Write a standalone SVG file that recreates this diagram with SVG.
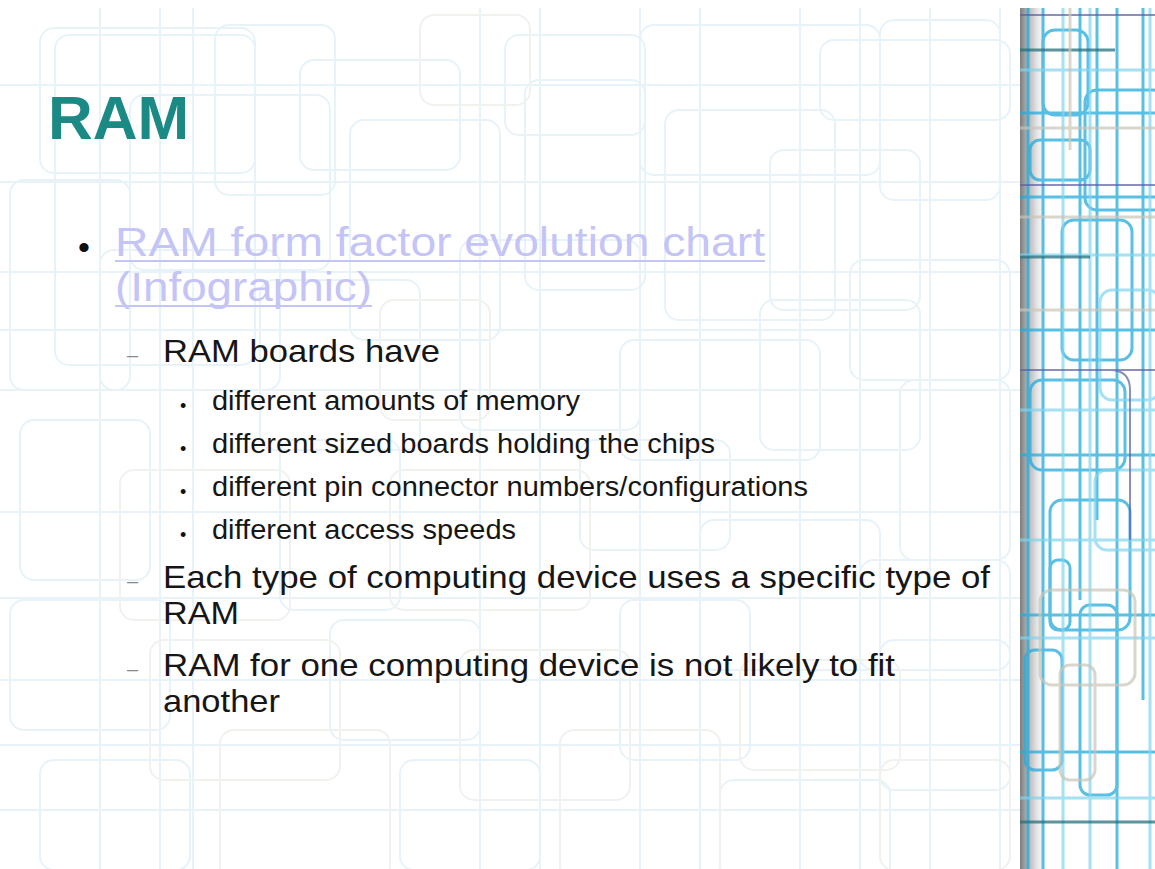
<svg xmlns="http://www.w3.org/2000/svg" width="1155" height="869" viewBox="0 0 1155 869">
  <defs>
    <style>
      .bg { fill: none; stroke: #e7f3f9; stroke-width: 2; }
      .bgg { fill: none; stroke: #f1f1ee; stroke-width: 2; }
      .ln { fill: none; stroke: #22abdc; stroke-width: 3; opacity: 0.75; }
      .lnl { fill: none; stroke: #7fd3ee; stroke-width: 3; opacity: 0.7; }
      .lnp { fill: none; stroke: #5d5fa6; stroke-width: 2; opacity: 0.7; }
      .lnd { fill: none; stroke: #25707e; stroke-width: 3; opacity: 0.75; }
      .lng { fill: none; stroke: #c9c6b8; stroke-width: 3; opacity: 0.7; }
      .title { font-family: "Liberation Sans", Arial, sans-serif; font-weight: bold; fill: #1b8a84; }
      .link { font-family: "Liberation Sans", Arial, sans-serif; fill: #c4c4f6; }
      .body { font-family: "Liberation Sans", Arial, sans-serif; fill: #161616; }
      .mark { font-family: "Liberation Sans", Arial, sans-serif; fill: #111111; }
      .dash { font-family: "Liberation Sans", Arial, sans-serif; fill: #8a8a8a; }
    </style>
    <linearGradient id="shade" x1="0" y1="0" x2="1" y2="0">
      <stop offset="0" stop-color="#7d7d7d"/>
      <stop offset="0.2" stop-color="#a9a9a9"/>
      <stop offset="0.55" stop-color="#e2e2e2"/>
      <stop offset="1" stop-color="#ffffff" stop-opacity="0"/>
    </linearGradient>
  </defs>

  <rect width="1155" height="869" fill="#ffffff"/>

  <!-- faint circuit-style background pattern -->
  <g id="pattern">
    <g class="bg">
      <line x1="0" y1="85" x2="1020" y2="85"/>
      <line x1="0" y1="182" x2="1020" y2="182"/>
      <line x1="0" y1="272" x2="1020" y2="272"/>
      <line x1="0" y1="330" x2="1020" y2="330"/>
      <line x1="0" y1="390" x2="1020" y2="390"/>
      <line x1="0" y1="512" x2="1020" y2="512"/>
      <line x1="0" y1="598" x2="1020" y2="598"/>
      <line x1="0" y1="680" x2="1020" y2="680"/>
      <line x1="0" y1="745" x2="1020" y2="745"/>
      <line x1="0" y1="810" x2="1020" y2="810"/>
      <line x1="100" y1="8" x2="100" y2="869"/>
      <line x1="160" y1="8" x2="160" y2="869"/>
      <line x1="193" y1="8" x2="193" y2="869"/>
      <line x1="480" y1="8" x2="480" y2="869"/>
      <line x1="540" y1="8" x2="540" y2="869"/>
      <line x1="640" y1="8" x2="640" y2="869"/>
      <line x1="700" y1="8" x2="700" y2="869"/>
      <line x1="800" y1="8" x2="800" y2="869"/>
      <line x1="860" y1="8" x2="860" y2="869"/>
      <line x1="930" y1="8" x2="930" y2="869"/>
      <line x1="1000" y1="8" x2="1000" y2="869"/>
      <rect x="40" y="28" width="215" height="145" rx="14"/>
      <rect x="55" y="35" width="200" height="330" rx="14"/>
      <rect x="130" y="95" width="200" height="175" rx="14"/>
      <rect x="215" y="25" width="120" height="170" rx="14"/>
      <rect x="300" y="60" width="160" height="110" rx="14"/>
      <rect x="350" y="120" width="150" height="220" rx="14"/>
      <rect x="505" y="35" width="140" height="100" rx="14"/>
      <rect x="525" y="80" width="120" height="210" rx="14"/>
      <rect x="640" y="25" width="240" height="150" rx="14"/>
      <rect x="665" y="110" width="170" height="210" rx="14"/>
      <rect x="770" y="150" width="150" height="160" rx="14"/>
      <rect x="820" y="40" width="190" height="80" rx="14"/>
      <rect x="880" y="20" width="120" height="180" rx="14"/>
      <rect x="10" y="180" width="120" height="210" rx="14"/>
      <rect x="100" y="250" width="180" height="140" rx="14"/>
      <rect x="260" y="280" width="160" height="170" rx="14"/>
      <rect x="460" y="240" width="180" height="190" rx="14"/>
      <rect x="620" y="340" width="200" height="120" rx="14"/>
      <rect x="760" y="300" width="160" height="150" rx="14"/>
      <rect x="850" y="260" width="160" height="120" rx="14"/>
      <rect x="900" y="380" width="110" height="180" rx="14"/>
      <rect x="20" y="420" width="130" height="160" rx="14"/>
      <rect x="280" y="440" width="120" height="170" rx="14"/>
      <rect x="580" y="440" width="150" height="110" rx="14"/>
      <rect x="700" y="520" width="180" height="150" rx="14"/>
      <rect x="860" y="560" width="150" height="110" rx="14"/>
      <rect x="10" y="600" width="160" height="130" rx="14"/>
      <rect x="330" y="620" width="150" height="120" rx="14"/>
      <rect x="620" y="600" width="130" height="160" rx="14"/>
      <rect x="880" y="640" width="130" height="150" rx="14"/>
      <rect x="40" y="760" width="150" height="110" rx="14"/>
      <rect x="400" y="760" width="140" height="110" rx="14"/>
      <rect x="720" y="780" width="170" height="100" rx="14"/>
    </g>
    <g class="bgg">
      <rect x="420" y="15" width="110" height="90" rx="14"/>
      <rect x="380" y="300" width="110" height="120" rx="14"/>
      <rect x="120" y="470" width="170" height="150" rx="14"/>
      <rect x="390" y="470" width="200" height="140" rx="14"/>
      <rect x="150" y="640" width="190" height="140" rx="14"/>
      <rect x="460" y="650" width="170" height="150" rx="14"/>
      <rect x="740" y="660" width="160" height="110" rx="14"/>
      <rect x="220" y="730" width="170" height="150" rx="14"/>
      <rect x="560" y="730" width="160" height="150" rx="14"/>
      <rect x="880" y="760" width="130" height="110" rx="14"/>
    </g>
  </g>

  <!-- right-hand decorative strip -->
  <g id="strip">
    <rect x="1020" y="8" width="135" height="861" fill="#ffffff"/>
    <rect x="1020" y="8" width="30" height="861" fill="url(#shade)"/>
    <g class="ln">
      <line x1="1028" y1="8" x2="1028" y2="869"/>
      <line x1="1043" y1="8" x2="1043" y2="869"/>
      <line x1="1080" y1="8" x2="1080" y2="600"/>
      <line x1="1097" y1="8" x2="1097" y2="520"/>
      <line x1="1117" y1="8" x2="1117" y2="869"/>
      <line x1="1143" y1="8" x2="1143" y2="700"/>
      <line x1="1020" y1="113" x2="1155" y2="113"/>
      <line x1="1020" y1="197" x2="1155" y2="197"/>
      <line x1="1020" y1="330" x2="1155" y2="330"/>
      <line x1="1020" y1="455" x2="1155" y2="455"/>
      <line x1="1020" y1="615" x2="1155" y2="615"/>
      <line x1="1020" y1="752" x2="1155" y2="752"/>
      <rect x="1043" y="30" width="45" height="85" rx="12"/>
      <rect x="1085" y="90" width="80" height="120" rx="12"/>
      <rect x="1030" y="140" width="60" height="40" rx="10"/>
      <rect x="1062" y="220" width="70" height="140" rx="12"/>
      <rect x="1030" y="380" width="95" height="90" rx="12"/>
      <rect x="1050" y="500" width="80" height="130" rx="12"/>
      <rect x="1080" y="605" width="37" height="190" rx="10"/>
      <rect x="1025" y="650" width="37" height="120" rx="10"/>
      <rect x="1050" y="560" width="20" height="70" rx="8"/>
    </g>
    <g class="lnl">
      <line x1="1063" y1="8" x2="1063" y2="869"/>
      <line x1="1090" y1="8" x2="1090" y2="869"/>
      <line x1="1150" y1="8" x2="1150" y2="869"/>
      <line x1="1020" y1="70" x2="1155" y2="70"/>
      <line x1="1020" y1="255" x2="1155" y2="255"/>
      <line x1="1020" y1="410" x2="1155" y2="410"/>
      <line x1="1020" y1="540" x2="1155" y2="540"/>
      <line x1="1020" y1="638" x2="1155" y2="638"/>
      <line x1="1020" y1="798" x2="1155" y2="798"/>
      <rect x="1100" y="290" width="60" height="110" rx="12"/>
      <rect x="1095" y="470" width="70" height="80" rx="12"/>
    </g>
    <g class="lnp">
      <line x1="1020" y1="15" x2="1155" y2="15"/>
      <line x1="1020" y1="185" x2="1155" y2="185"/>
      <line x1="1020" y1="370" x2="1155" y2="370"/>
      <path d="M1110 370 Q1130 370 1130 390 L1130 540"/>
    </g>
    <g class="lnd">
      <line x1="1020" y1="50" x2="1115" y2="50"/>
      <line x1="1020" y1="257" x2="1090" y2="257"/>
      <line x1="1020" y1="822" x2="1155" y2="822"/>
    </g>
    <g class="lng">
      <line x1="1020" y1="128" x2="1155" y2="128"/>
      <line x1="1020" y1="217" x2="1155" y2="217"/>
      <line x1="1020" y1="310" x2="1155" y2="310"/>
      <line x1="1070" y1="8" x2="1070" y2="150"/>
      <rect x="1060" y="665" width="35" height="115" rx="10"/>
      <rect x="1040" y="590" width="95" height="95" rx="12"/>
    </g>
  </g>

  <!-- slide title -->
  <g id="title">
    <text class="title" x="48" y="139" font-size="62">RAM</text>
  </g>

  <!-- first-level bullet: hyperlink -->
  <g id="bullet-link">
    <text class="mark" x="78" y="259" font-size="34">•</text>
    <text class="link" x="115" y="256" font-size="41" textLength="650" lengthAdjust="spacingAndGlyphs">RAM form factor evolution chart</text>
    <rect x="115" y="260" width="650" height="2" fill="#c4c4f6"/>
    <text class="link" x="115" y="301" font-size="41" textLength="257" lengthAdjust="spacingAndGlyphs">(Infographic)</text>
    <rect x="115" y="305" width="257" height="2" fill="#c4c4f6"/>
  </g>

  <!-- second-level item: RAM boards have -->
  <g id="item-boards">
    <text class="dash" x="127" y="362" font-size="20">–</text>
    <text class="body" x="163" y="362" font-size="32" textLength="277" lengthAdjust="spacingAndGlyphs">RAM boards have</text>
  </g>

  <!-- third-level bullets -->
  <g id="sub-amounts">
    <text class="mark" x="180" y="412" font-size="18">•</text>
    <text class="body" x="212" y="410" font-size="27" textLength="368" lengthAdjust="spacingAndGlyphs">different amounts of memory</text>
  </g>
  <g id="sub-sizes">
    <text class="mark" x="180" y="455" font-size="18">•</text>
    <text class="body" x="212" y="453" font-size="27" textLength="503" lengthAdjust="spacingAndGlyphs">different sized boards holding the chips</text>
  </g>
  <g id="sub-pins">
    <text class="mark" x="180" y="498" font-size="18">•</text>
    <text class="body" x="212" y="496" font-size="27" textLength="596" lengthAdjust="spacingAndGlyphs">different pin connector numbers/configurations</text>
  </g>
  <g id="sub-speeds">
    <text class="mark" x="180" y="541" font-size="18">•</text>
    <text class="body" x="212" y="539" font-size="27" textLength="304" lengthAdjust="spacingAndGlyphs">different access speeds</text>
  </g>

  <!-- second-level item: device-specific RAM -->
  <g id="item-specific">
    <text class="dash" x="127" y="588" font-size="20">–</text>
    <text class="body" x="163" y="588" font-size="32" textLength="827" lengthAdjust="spacingAndGlyphs">Each type of computing device uses a specific type of</text>
    <text class="body" x="163" y="624" font-size="32" textLength="76" lengthAdjust="spacingAndGlyphs">RAM</text>
  </g>

  <!-- second-level item: compatibility -->
  <g id="item-fit">
    <text class="dash" x="127" y="676" font-size="20">–</text>
    <text class="body" x="163" y="676" font-size="32" textLength="732" lengthAdjust="spacingAndGlyphs">RAM for one computing device is not likely to fit</text>
    <text class="body" x="163" y="712" font-size="32" textLength="117" lengthAdjust="spacingAndGlyphs">another</text>
  </g>
</svg>
